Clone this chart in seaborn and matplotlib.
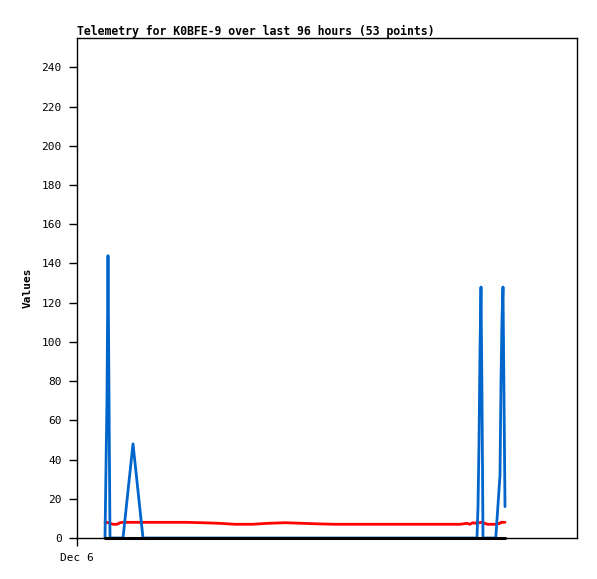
import numpy as np
import pandas as pd
import matplotlib
matplotlib.use('Agg')
import matplotlib.pyplot as plt
import seaborn as sns

# hours after Dec 6 00:00
hours = [6.72, 7.2, 7.44, 7.68, 7.92, 8.64, 9.6, 10.32,
         11.04, 12.24, 13.44, 14.64, 15.84,
         18, 22, 26, 30, 34, 38, 42, 46, 50, 54, 58, 62, 66, 70, 74, 78, 82, 86, 90, 92,
         93.6, 94.3, 95.0, 95.5,
         96.0, 96.24, 96.48, 96.72, 96.96, 97.2, 97.44,
         98.5, 99.5, 100.5,
         101.52, 101.76, 102.0, 102.24, 102.48, 102.72]
blue = [0, 72, 144, 72, 0, 0, 0, 0,
        0, 24, 48, 24, 0,
        0, 0, 0, 0, 0, 0, 0, 0, 0, 0, 0, 0, 0, 0, 0, 0, 0, 0, 0, 0,
        0, 0, 0, 0,
        0, 16, 48, 96, 128, 72, 0,
        0, 0, 0,
        32, 80, 112, 128, 72, 16]
red = [8.0, 8.0, 7.8, 7.8, 7.5, 7.0, 7.0, 7.8,
       8.0, 8.0, 8.0, 8.0, 8.0,
       8.0, 8.0, 8.0, 7.8, 7.5, 7.0, 7.0, 7.5, 7.8, 7.5, 7.2, 7.0, 7.0, 7.0, 7.0, 7.0, 7.0, 7.0, 7.0, 7.0,
       7.5, 7.0, 7.8, 7.5,
       8.0, 8.0, 7.8, 7.8, 8.0, 8.0, 7.8,
       7.0, 7.0, 7.0,
       7.5, 8.0, 8.0, 8.0, 8.0, 8.0]
black = [0] * len(hours)

base = pd.Timestamp('2023-12-06')
df = pd.DataFrame({'time': base + pd.to_timedelta(hours, unit='h'),
                   'blue': blue, 'red': red, 'black': black})

sns.set_style('white')
plt.rcParams['font.family'] = ['DejaVu Sans Mono']
plt.rcParams['text.color'] = 'black'
plt.rcParams['axes.labelcolor'] = 'black'

fig = plt.figure(figsize=(5.97, 5.79), dpi=100)
ax = fig.add_axes([77/597, 41/579, 500/597, 500/579])

sns.lineplot(data=df, x='time', y='red', color='#ff0000', linewidth=2.0, ax=ax)
sns.lineplot(data=df, x='time', y='blue', color='#0066cc', linewidth=2.0, ax=ax)
sns.lineplot(data=df, x='time', y='black', color='black', linewidth=2.2, ax=ax, clip_on=False)

ax.set_xlim(base, base + pd.Timedelta(hours=120))
ax.set_ylim(0, 255)
ax.set_yticks(range(0, 241, 20))
ax.set_xticks([base])
ax.set_xticklabels(['Dec 6'])
ax.tick_params(axis='both', direction='out', length=6, width=1, pad=5, labelsize=8,
               colors='black', left=True, bottom=True)
ax.set_xlabel('')
ax.set_ylabel('Values', fontsize=8, fontweight='bold', labelpad=6, color='black')
ax.set_title('Telemetry for K0BFE-9 over last 96 hours (53 points)', loc='left',
             fontsize=8.3, fontweight='bold', pad=2, color='black')
for s in ax.spines.values():
    s.set_color('black')
    s.set_linewidth(1)

fig.savefig('out.png', dpi=100)
